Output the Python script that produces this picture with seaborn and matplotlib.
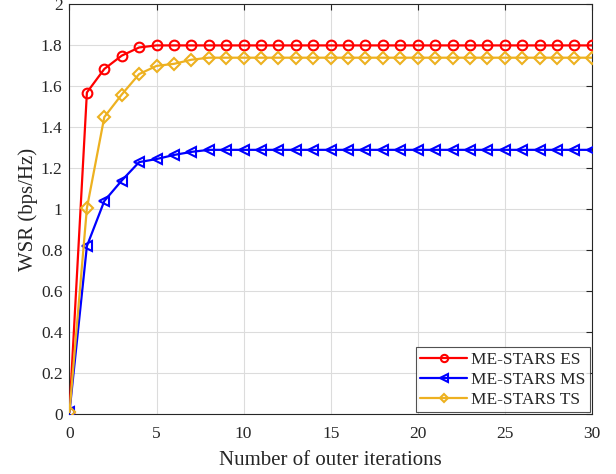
import numpy as np
import pandas as pd
import matplotlib
matplotlib.use("Agg")
import matplotlib.pyplot as plt
import seaborn as sns

iterations = list(range(0, 31))
es_vals = [0.01, 1.57, 1.685, 1.75, 1.79, 1.80] + [1.80] * 25
ms_vals = [0.01, 0.82, 1.04, 1.14, 1.23, 1.245, 1.265, 1.28, 1.29] + [1.29] * 22
ts_vals = [0.01, 1.005, 1.45, 1.56, 1.66, 1.70, 1.71, 1.73, 1.74] + [1.74] * 22
labels = ["ME-STARS ES", "ME-STARS MS", "ME-STARS TS"]
xticks = [0, 5, 10, 15, 20, 25, 30]
yticks = [0, 0.2, 0.4, 0.6, 0.8, 1, 1.2, 1.4, 1.6, 1.8, 2]

sns.set_style("white")
plt.rcParams['font.family'] = ['Liberation Serif', 'DejaVu Serif']
plt.rcParams['mathtext.fontset'] = 'stix'

fig = plt.figure(figsize=(6.16, 4.74), dpi=100)
ax = fig.add_axes([0.1128, 0.1266, 0.848, 0.864])

series = [es_vals, ms_vals, ts_vals]
colors = ["#ff0000", "#0000ff", "#edb120"]
markers = ["o", "<", "D"]
msizes = [7, 7.5, 6]

for vals, lab, c, m, ms in zip(series, labels, colors, markers, msizes):
    df = pd.DataFrame({"x": iterations, "y": vals})
    sns.lineplot(data=df, x="x", y="y", ax=ax, color=c, marker=m, markersize=ms,
                 markerfacecolor="none", markeredgecolor=c, markeredgewidth=1.5,
                 linewidth=1.6, label=lab, zorder=3)

ax.set_xlim(0, 30)
ax.set_ylim(0, 2)
ax.set_xticks(xticks)
ax.set_yticks(yticks)
ax.set_yticklabels([f"{t:g}" for t in yticks])
ax.grid(True, color="#dcdcdc", linewidth=0.8)
ax.set_axisbelow(True)
for s in ax.spines.values():
    s.set_color("#262626")
    s.set_linewidth(0.8)
ax.tick_params(direction="in", length=4, width=0.8, colors="#262626", labelsize=12.5,
               top=True, right=True, labelcolor="#262626")
ax.tick_params(axis="x", pad=9)
ax.tick_params(axis="y", pad=5)
ax.set_xlabel("Number of outer iterations", fontsize=15, color="#262626", labelpad=6)
ax.set_ylabel("WSR (bps/Hz)", fontsize=15, color="#262626", labelpad=2)

leg = ax.legend(loc="lower right", fontsize=12.5, frameon=True, fancybox=False,
                borderaxespad=0.1, handlelength=2.7, borderpad=0.25, labelspacing=0.22,
                handletextpad=0.25, markerscale=0.75)
leg.get_frame().set_edgecolor("#262626")
leg.get_frame().set_linewidth(0.8)

fig.savefig("out.png", dpi=100)
